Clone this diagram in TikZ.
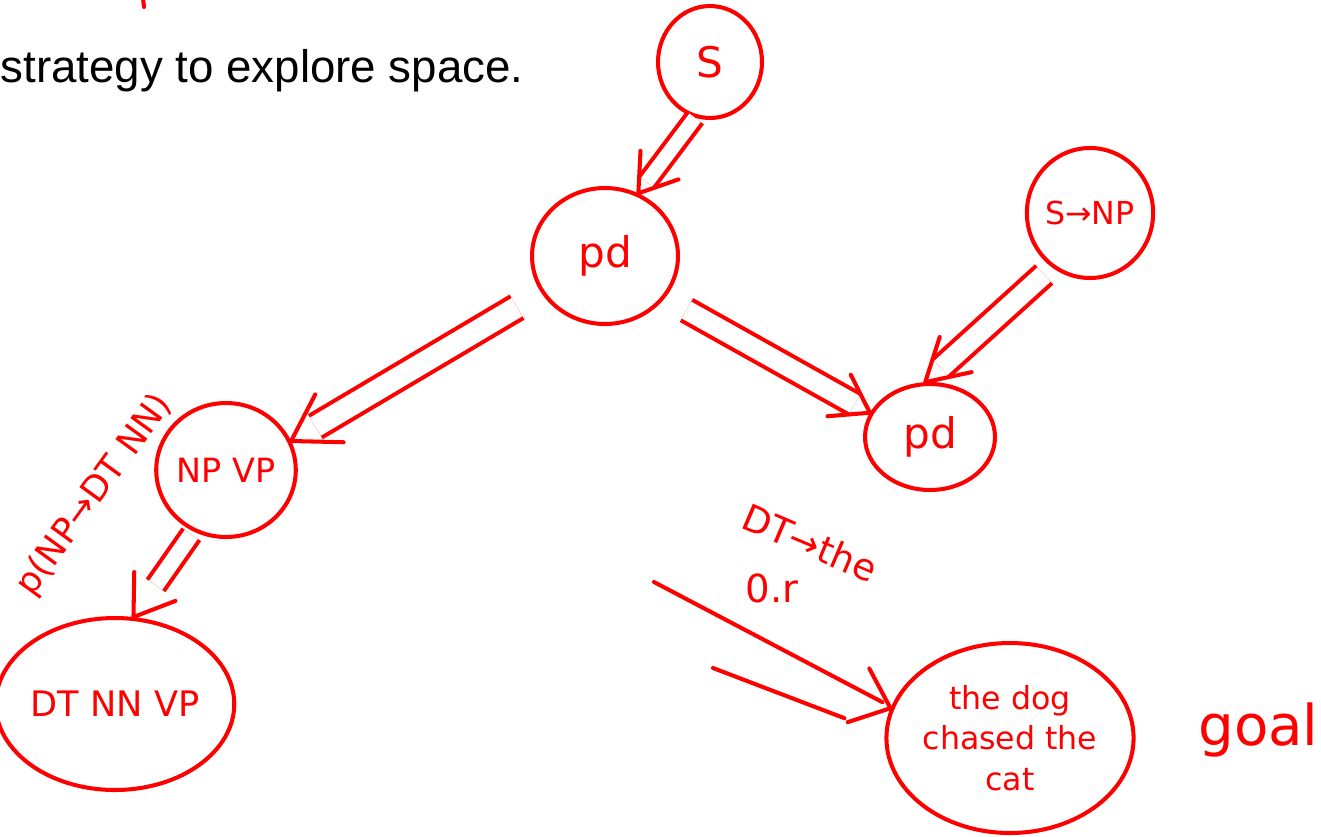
\documentclass[tikz,border=0pt]{standalone}
\usepackage{fontspec}
\setmainfont{Liberation Sans}
\newfontfamily\hand{DejaVu Sans}
\usetikzlibrary{shapes.geometric,calc}
% open barbed head at #1 for a stroke coming from #2; barbs #3 long, opened by #4 degrees
\newcommand\barbhead[4]{%
  \draw[ink] ($(#1)!#3!#4:(#2)$) -- (#1) -- ($(#1)!#3!-#4:(#2)$);}
\begin{document}
\begin{tikzpicture}[x=0.02cm,y=-0.02cm,
  ink/.style={red, line width=2.3pt, line cap=round, line join=round},
  state/.style={ellipse, draw=red, line width=2.3pt, inner sep=0pt,
    text=red, align=center},
  shaft/.style={draw=red, line width=2.3pt, double=white},
  lbl/.style={text=red, inner sep=0pt, align=center},
]
\useasboundingbox (0,0) rectangle (1321,836);

% heading line
\node[anchor=base east, inner sep=0pt, font=\fontsize{26pt}{30pt}\selectfont]
  (head) at (524,82) {strategy to explore space.};
\coordinate (tk1) at (143,-2);
\coordinate (tk2) at (144,7);
\draw[ink] (tk1) -- (tk2);

% search states
\node[state, minimum width=2.08cm, minimum height=2.24cm,
  font=\hand\fontsize{24pt}{28pt}\selectfont] (s) at (710,62) {S};
\node[state, minimum width=2.92cm, minimum height=2.72cm,
  font=\hand\fontsize{24pt}{28pt}\selectfont] (pd1) at (605,256) {pd};
\node[state, minimum width=2.52cm, minimum height=2.6cm,
  font=\hand\fontsize{18pt}{21pt}\selectfont] (snp) at (1090,213) {S→NP};
\node[state, minimum width=2.6cm, minimum height=2.12cm,
  font=\hand\fontsize{24pt}{28pt}\selectfont] (pd2) at (930,437) {pd};
\node[state, minimum width=2.76cm, minimum height=2.68cm,
  font=\hand\fontsize{19pt}{22pt}\selectfont] (npvp) at (226,470) {NP VP};
\node[state, minimum width=4.4cm, minimum height=3.44cm,
  font=\hand\fontsize{20pt}{24pt}\selectfont] (dtnn) at (115,704) {DT NN VP};
\node[state, minimum width=4.92cm, minimum height=3.8cm,
  font=\hand\fontsize{18pt}{23pt}\selectfont] (g) at (1010,738)
  {the dog\\chased the\\cat};
\node[lbl, anchor=base west, font=\hand\fontsize{32pt}{36pt}\selectfont]
  (goal) at (1198,745) {goal};

% expansions
\draw[shaft, double distance=8pt, shorten >=8pt] (s.-105) -- (pd1.62);
\barbhead{pd1.62}{s.-105}{0.85cm}{34}

\draw[shaft, double distance=11pt, shorten <=14pt, shorten >=10pt]
  (pd1.-35) -- (pd2.158);
\barbhead{pd2.158}{pd1.-35}{0.85cm}{34}

\draw[shaft, double distance=11pt, shorten <=6pt, shorten >=12pt]
  (snp.-125) -- (pd2.95);
\barbhead{pd2.95}{snp.-125}{0.95cm}{30}

\draw[shaft, double distance=12pt, shorten <=16pt, shorten >=16pt]
  (pd1.-150) -- (npvp.24);
\barbhead{npvp.24}{pd1.-150}{1.05cm}{32}

\draw[shaft, double distance=9pt, shorten <=2pt, shorten >=22pt]
  (npvp.-118) -- (dtnn.78);
\barbhead{dtnn.78}{npvp.-118}{0.9cm}{34}

% reaching the goal
\coordinate (ga) at (654,582);
\coordinate (gb) at (713,668);
\coordinate (gm) at (684,625);
\draw[ink] (ga) -- ($(g.166)+(-8,-6)$);
\draw[ink] (gb) -- ($(g.166)+(-46,10)$);
\barbhead{g.166}{gm}{0.9cm}{40}

% rule labels
\node[lbl, rotate=54, font=\hand\fontsize{20pt}{24pt}\selectfont]
  (lrule) at (95,495) {p(NP→DT NN)};
\node[lbl, rotate=-23, font=\hand\fontsize{21pt}{24pt}\selectfont]
  (ldt) at (810,543) {DT→the};
\node[lbl, font=\hand\fontsize{22pt}{26pt}\selectfont]
  (lprob) at (772,588) {0.r};
\end{tikzpicture}
\end{document}
